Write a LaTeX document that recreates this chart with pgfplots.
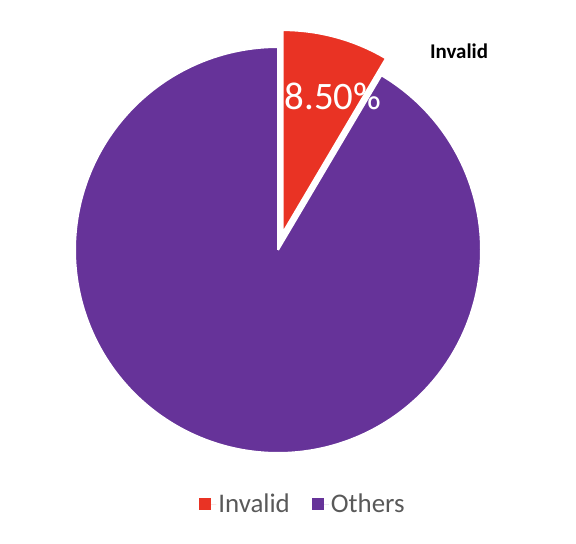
\documentclass[border=0pt]{standalone}
\usepackage{pgfplots}
\usepackage{pgfplotstable}
\pgfplotsset{compat=1.18}
\usepackage{fontspec}
\setmainfont{Carlito}
\definecolor{invalidc}{HTML}{E93324}
\definecolor{othersc}{HTML}{663399}
\definecolor{legtext}{HTML}{595959}

\pgfplotstableread{
label   value
Invalid 8.5
Others  91.5
}\piedata
\pgfplotstablegetelem{0}{value}\of\piedata \let\invalidval\pgfplotsretval
\pgfplotstablegetelem{1}{value}\of\piedata \let\othersval\pgfplotsretval
% angles: pie starts at 12 o'clock, clockwise
\pgfmathsetmacro{\invdeg}{3.6*\invalidval}
\pgfmathsetmacro{\othdeg}{3.6*\othersval}
\pgfmathsetmacro{\invstart}{90-\invdeg}
\pgfmathsetmacro{\midang}{90-\invdeg/2}
% exploded slice centre
\pgfmathsetmacro{\rcx}{278+17.5*cos(\midang)}
\pgfmathsetmacro{\rcy}{294+17.5*sin(\midang)}

\begin{document}
\begin{tikzpicture}
\begin{axis}[
  scale only axis, width=576bp, height=544bp,
  xmin=0, xmax=576, ymin=0, ymax=544,
  enlargelimits=false, hide axis, clip=false,
  legend columns=2,
  legend style={at={(axis description cs:0.526,0.0735)}, anchor=center,
    draw=none, fill=none, font=\fontsize{27}{29}\selectfont\color{legtext},
    /tikz/every even column/.append style={column sep=20bp}},
  legend image code/.code={\fill[#1,draw=none] (0bp,-6bp) rectangle (12bp,6bp);
    \path[draw=none] (0bp,0bp) -- (17bp,0bp);},
]
\addplot[draw=none, forget plot] coordinates {(0,0) (576,544)};
% Invalid slice (exploded)
\addplot[fill=invalidc, draw=white, line width=2bp, line join=round,
  domain=0:202, samples=203, variable=\t]
  ({\rcx + (\t>0.5)*(\t<201.5)*203*cos(\invstart + (\t-1)*\invdeg/200)},
   {\rcy + (\t>0.5)*(\t<201.5)*203*sin(\invstart + (\t-1)*\invdeg/200)});
\addlegendentry{Invalid}
% Others slice
\addplot[fill=othersc, draw=white, line width=2bp, line join=round,
  domain=0:402, samples=403, variable=\t]
  ({278 + (\t>0.5)*(\t<401.5)*203*cos(90 + (\t-1)*\othdeg/400)},
   {294 + (\t>0.5)*(\t<401.5)*203*sin(90 + (\t-1)*\othdeg/400)});
\addlegendentry{Others}
\node[anchor=base, text=white, font=\fontsize{39}{39}\selectfont, inner sep=0pt]
  at (axis cs:333,434) {8.50\%};
\node[anchor=base, text=black, font=\fontsize{21}{21}\selectfont\bfseries, inner sep=0pt]
  at (axis cs:459,485) {Invalid};
\end{axis}
\end{tikzpicture}
\end{document}
